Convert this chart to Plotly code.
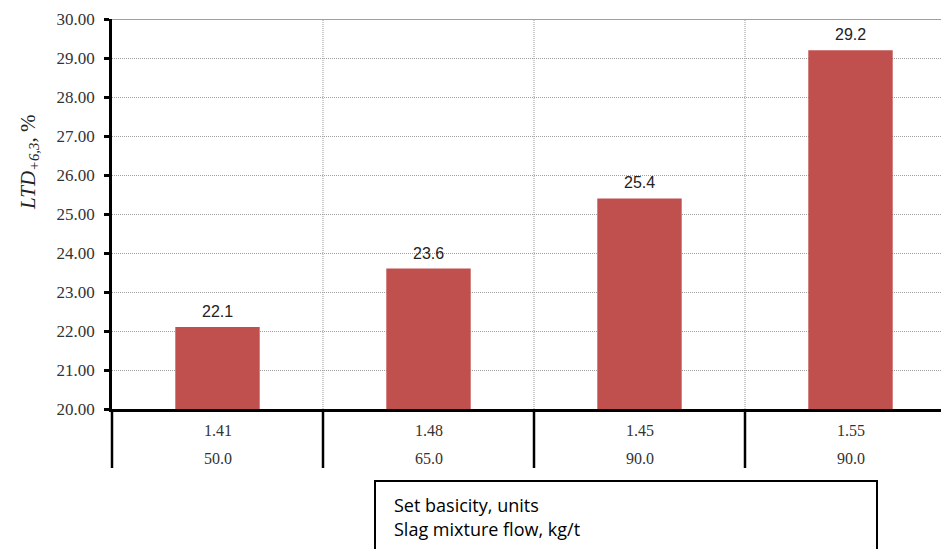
import plotly.graph_objects as go

categories = ["A", "B", "C", "D"]
ltd_values = [22.1, 23.6, 25.4, 29.2]
basicity_labels = ["1.41", "1.48", "1.45", "1.55"]
flow_labels = ["50.0", "65.0", "90.0", "90.0"]
y_ticks = [20, 21, 22, 23, 24, 25, 26, 27, 28, 29, 30]
legend_lines = ["Set basicity, units", "Slag mixture flow, kg/t"]

OFF = 8  # browser body margin
W, H = 949 - OFF, 549 - OFF
L, R, T, B = 104, 0, 11, 140
plot_w = W - L - R
plot_h = H - T - B
cat_w = 211.0
PL = OFF + L            # page x of plot left
PB = OFF + T + plot_h   # page y of plot bottom

def py(pix):
    return (PB - pix) / plot_h

def px(pix):
    return (pix - PL) / plot_w

xs = list(range(len(categories)))
fig = go.Figure()
fig.add_trace(go.Bar(
    x=xs, y=ltd_values, width=0.4,
    marker=dict(color="#C0504D", line=dict(width=0)),
    showlegend=False, hoverinfo="skip"))

serif = "Liberation Serif"
for i, v in enumerate(ltd_values):
    fig.add_annotation(x=i, y=v, text=f"{v:.1f}", showarrow=False, xanchor="center",
                       yanchor="bottom", yshift=5,
                       font=dict(family="Liberation Sans", size=16, color="#222"))
    fig.add_annotation(x=i, y=py(430), yref="paper", text=basicity_labels[i], showarrow=False,
                       xanchor="center", yanchor="middle",
                       font=dict(family=serif, size=16, color="#333"))
    fig.add_annotation(x=i, y=py(458), yref="paper", text=flow_labels[i], showarrow=False,
                       xanchor="center", yanchor="middle",
                       font=dict(family=serif, size=16, color="#333"))

shapes = []
for b in [0.5, 1.5, 2.5]:
    shapes.append(dict(type="line", x0=b, x1=b, y0=20, y1=30, xref="x", yref="y",
                       line=dict(color="#9a9a9a", width=1, dash="1px,1px"), layer="below"))
    shapes.append(dict(type="line", x0=b, x1=b, y0=0, y1=py(468), xref="x", yref="paper",
                       line=dict(color="black", width=2.5)))
shapes.append(dict(type="line", x0=0, x1=0, y0=0, y1=py(468), xref="paper", yref="paper",
                   line=dict(color="black", width=2.5)))
shapes.append(dict(type="line", x0=0, x1=1, y0=30, y1=30, xref="paper", yref="y",
                   line=dict(color="#a0a0a0", width=2)))
shapes.append(dict(type="rect", x0=px(375), x1=px(877), y0=py(481), y1=py(560),
                   xref="paper", yref="paper", line=dict(color="black", width=2),
                   fillcolor="white"))
fig.update_layout(shapes=shapes)

for k, ypix in enumerate([505, 529]):
    fig.add_annotation(x=px(392), y=py(ypix), xref="paper", yref="paper", xanchor="left",
                       yanchor="middle", text=legend_lines[k], showarrow=False,
                       font=dict(family="Open Sans", size=18, color="black"))

fig.add_annotation(x=px(29), y=py(163), xref="paper", yref="paper", textangle=-90,
                   xanchor="center", yanchor="middle",
                   text="<i>LTD<sub>+6,3</sub></i>, %", showarrow=False,
                   font=dict(family=serif, size=21, color="#222"))

fig.update_xaxes(range=[-0.5, -0.5 + plot_w / cat_w], showticklabels=False, showgrid=False,
                 zeroline=False, showline=True, linecolor="black", linewidth=2.5, ticks="")
fig.update_yaxes(range=[20, 30], tickvals=y_ticks, tickformat=".2f",
                 showgrid=True, gridcolor="#a0a0a0", griddash="1px,1px", gridwidth=1,
                 zeroline=False, showline=True, linecolor="black", linewidth=2.5,
                 ticks="outside", ticklen=5, tickwidth=2.5, tickcolor="black",
                 ticklabelstandoff=6,
                 tickfont=dict(family=serif, size=17, color="#333"))

fig.update_layout(width=W, height=H, margin=dict(l=L, r=R, t=T, b=B, autoexpand=False),
                  plot_bgcolor="white", paper_bgcolor="white")
fig.write_html("out.html")
